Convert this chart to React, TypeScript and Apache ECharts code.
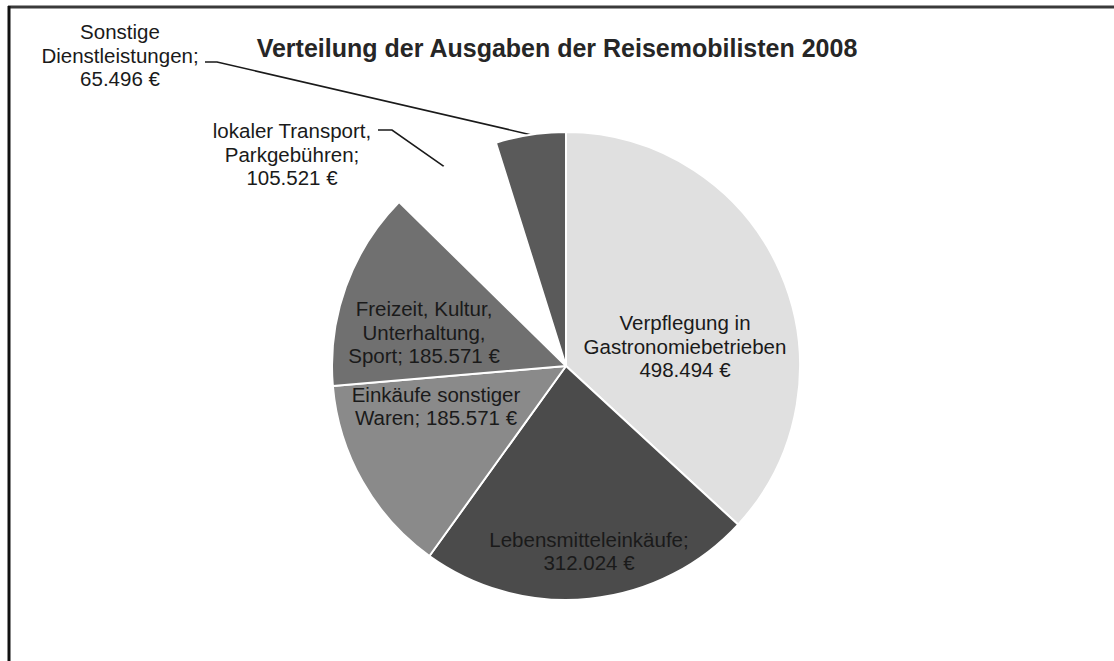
import React, { useEffect, useRef } from 'react';
import * as echarts from 'echarts';

const TITLE = 'Verteilung der Ausgaben der Reisemobilisten 2008';

const categories = [
  'Verpflegung in Gastronomiebetrieben',
  'Lebensmitteleinkäufe',
  'Einkäufe sonstiger Waren',
  'Freizeit, Kultur, Unterhaltung, Sport',
  'lokaler Transport, Parkgebühren',
  'Sonstige Dienstleistungen',
];
const values = [498494, 312024, 185571, 185571, 105521, 65496];

// how each category name is written on the chart
const labelNames = [
  'Verpflegung in\nGastronomiebetrieben',
  'Lebensmitteleinkäufe;',
  'Einkäufe sonstiger\nWaren;',
  'Freizeit, Kultur,\nUnterhaltung,\nSport;',
  'lokaler Transport,\nParkgebühren;',
  'Sonstige\nDienstleistungen;',
];
const valueSeparators = ['\n', '\n', ' ', ' ', '\n', '\n'];

// styling
const sliceColors = ['#e0e0e0', '#4b4b4b', '#8a8a8a', '#707070', '#ffffff', '#5a5a5a'];
const outsideLabel = [false, false, false, false, true, true];
const labelCenters: number[][] = [
  [685, 346],
  [589, 551],
  [436, 406],
  [424, 332],
  [292, 154],
  [120, 55],
];
const lineBends: (number[][] | null)[] = [
  null,
  null,
  null,
  null,
  [[392, 130], [378, 130]],
  [[217, 62], [205, 62]],
];

const fmt = (v: number) => String(v).replace(/\B(?=(\d{3})+(?!\d))/g, '.') + ' €';

export default function App() {
  const ref = useRef<HTMLDivElement>(null);
  useEffect(() => {
    if (!ref.current) return;
    const chart = echarts.init(ref.current, null, { renderer: 'svg' });
    const font = '"Liberation Sans", Arial, sans-serif';
    chart.setOption({
      animation: false,
      backgroundColor: '#ffffff',
      title: {
        text: TITLE,
        left: 'center',
        top: 30,
        textStyle: {
          fontFamily: font,
          fontSize: 25,
          fontWeight: 'bold',
          color: '#262626',
        },
      },
      graphic: [
        { type: 'line', shape: { x1: 8, y1: 7, x2: 1114, y2: 7 }, style: { stroke: '#3a3a3a', lineWidth: 3 } },
        { type: 'line', shape: { x1: 9, y1: 6, x2: 9, y2: 661 }, style: { stroke: '#111', lineWidth: 3 } },
      ],
      series: [
        {
          type: 'pie',
          center: [566, 366],
          radius: 234,
          startAngle: 90,
          clockwise: true,
          avoidLabelOverlap: false,
          itemStyle: { borderColor: '#ffffff', borderWidth: 2 },
          label: {
            fontFamily: font,
            fontSize: 20.5,
            lineHeight: 23.5,
            color: '#1a1a1a',
            align: 'center',
          },
          labelLayout: (params: any) => {
            const i = params.dataIndex;
            const c = labelCenters[i];
            const res: any = { x: c[0], y: c[1], align: 'center', verticalAlign: 'middle' };
            const bends = lineBends[i];
            if (bends && params.labelLinePoints) {
              res.labelLinePoints = [params.labelLinePoints[0], bends[0], bends[1]];
            }
            return res;
          },
          data: categories.map((name, i) => ({
            name,
            value: values[i],
            itemStyle: {
              color: sliceColors[i],
              borderWidth: i === 4 ? 0 : 2,
            },
            label: {
              show: true,
              position: outsideLabel[i] ? 'outside' : 'inside',
              formatter: () => labelNames[i] + valueSeparators[i] + fmt(values[i]),
            },
            labelLine: {
              show: outsideLabel[i],
              length: 20,
              length2: 10,
              lineStyle: { color: '#1a1a1a', width: 1.6 },
            },
          })),
        },
      ],
    });
    return () => chart.dispose();
  }, []);
  return (
    <div
      ref={ref}
      style={{ position: 'fixed', left: 0, top: 0, width: 1114, height: 661, background: '#fff' }}
    />
  );
}
